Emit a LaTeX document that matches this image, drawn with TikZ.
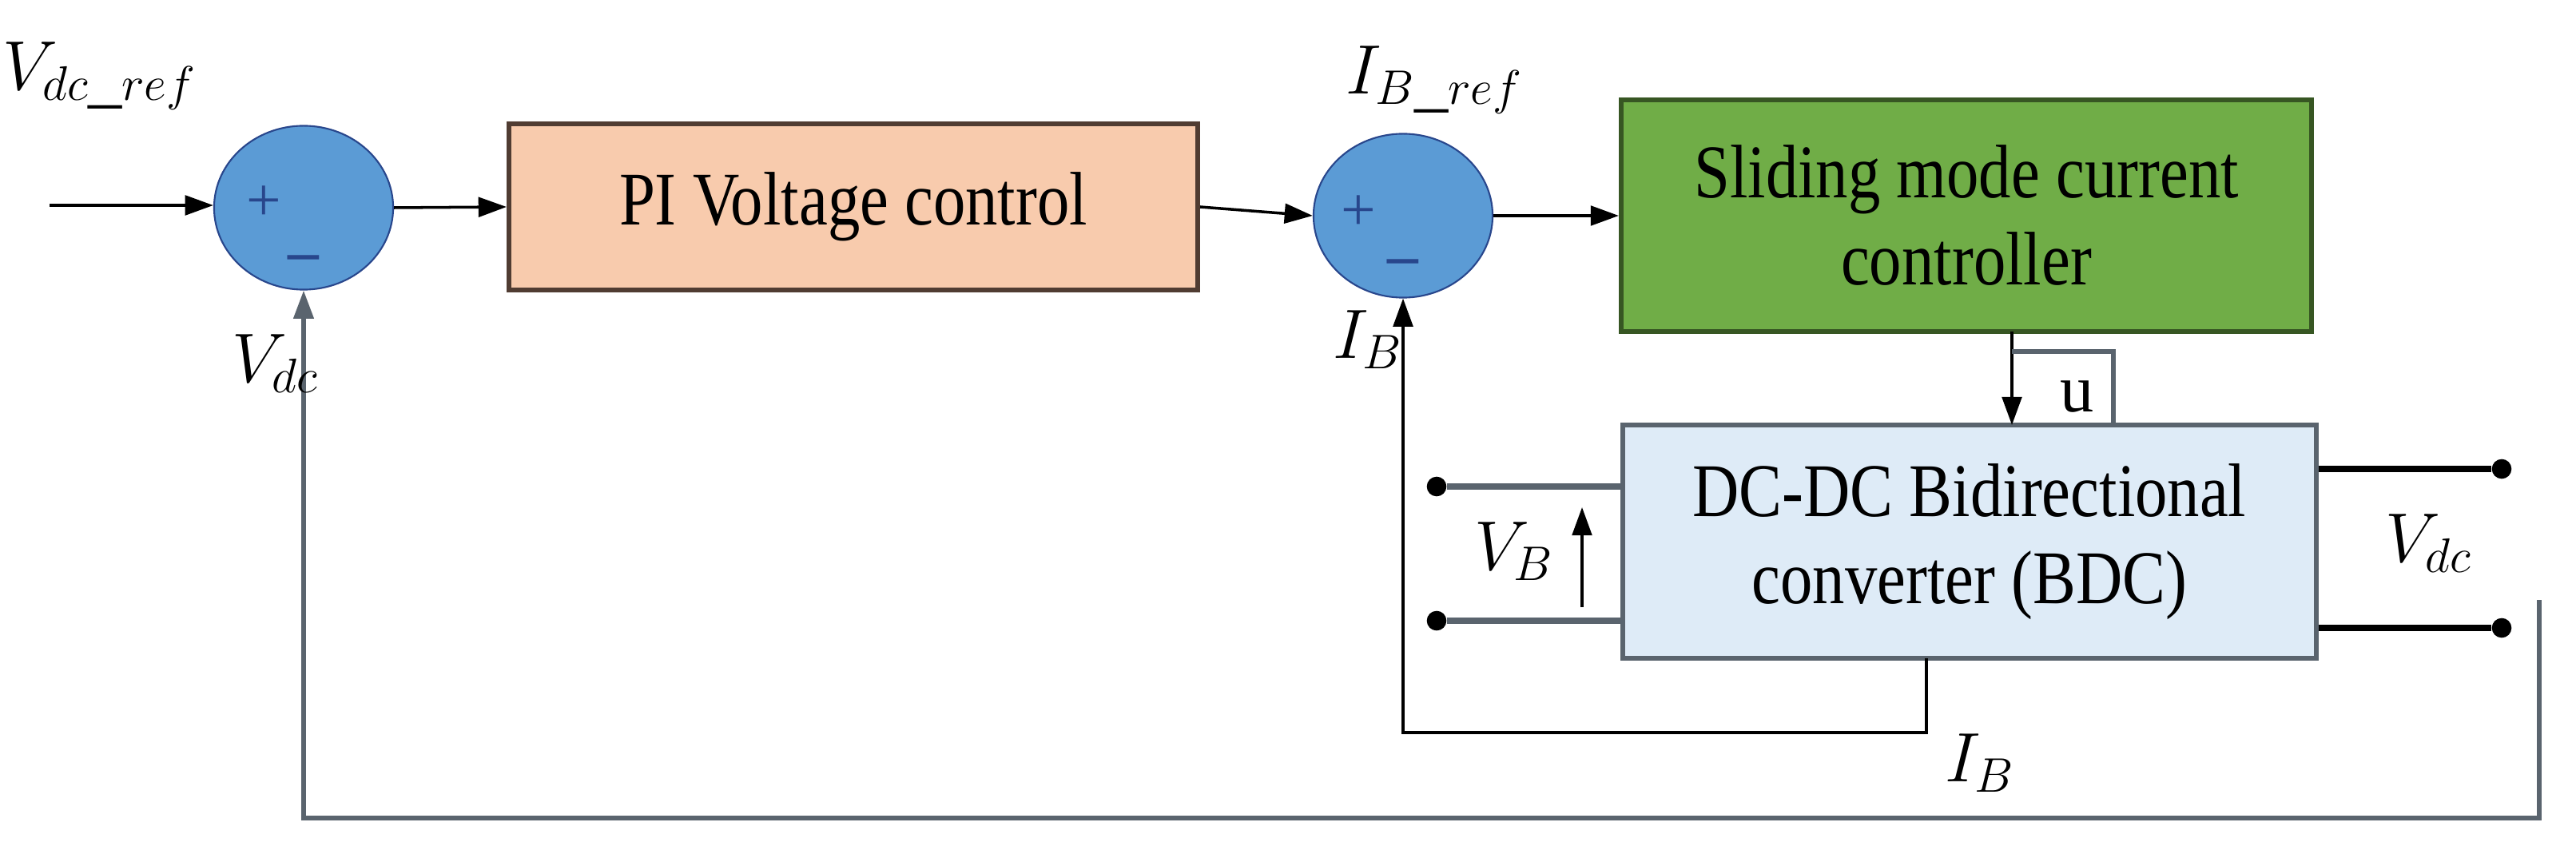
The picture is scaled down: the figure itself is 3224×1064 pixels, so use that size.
\documentclass[tikz,border=0pt]{standalone}
\usepackage{fontspec}
\setmainfont{Liberation Serif}
\usetikzlibrary{arrows.meta,shapes.geometric}
\definecolor{sumblue}{RGB}{91,155,213}
\definecolor{sumedge}{RGB}{40,70,140}
\definecolor{pifill}{RGB}{248,203,173}
\definecolor{piedge}{RGB}{80,60,50}
\definecolor{gfill}{RGB}{112,173,71}
\definecolor{gedge}{RGB}{55,86,35}
\definecolor{bfill}{RGB}{222,235,247}
\definecolor{bedge}{RGB}{90,100,110}
\begin{document}
\begin{tikzpicture}[x=0.01cm,y=-0.01cm,
  sum/.style={ellipse,fill=sumblue,draw=sumedge,line width=0.6pt,minimum width=2.24cm,minimum height=2.05cm,inner sep=0pt},
  blk/.style={rectangle,line width=1.6pt,inner sep=0pt,align=center,font=\fontsize{27}{31}\selectfont},
  sig/.style={line width=1pt,-{Triangle[length=10pt,width=7pt]}},
  wire/.style={line width=1pt},
  term/.style={line width=2pt},
  dot/.style={circle,fill=black,minimum size=7pt,inner sep=0pt},
  lab/.style={font=\fontsize{24}{26}\selectfont},
  pm/.style={text=sumedge,font=\fontsize{22}{22}\selectfont}]
\useasboundingbox (0,0) rectangle (3224,1064);
% summing junctions
\node[sum] (s1) at (380,260) {};
\node[sum] (s2) at (1756,270) {};
\node[pm] at (330,255) {+};
\node[pm] at (380,330) {\textbf{--}};
\node[pm] at (1700,267) {+};
\node[pm] at (1756,335) {\textbf{--}};
% blocks
\node[blk,fill=pifill,draw=piedge,minimum width=8.62cm,minimum height=2.08cm] (pi) at (1068,259) {\scalebox{0.85}[1]{PI Voltage control}};
\node[blk,fill=gfill,draw=gedge,minimum width=8.64cm,minimum height=2.9cm] (smc) at (2461,270) {\scalebox{0.85}[1]{Sliding mode current}\\\scalebox{0.85}[1]{controller}};
\node[blk,fill=bfill,draw=bedge,minimum width=8.67cm,minimum height=2.92cm] (bdc) at (2465,678) {\scalebox{0.85}[1]{DC-DC Bidirectional}\\\scalebox{0.85}[1]{converter (BDC)}};
% forward path
\coordinate (in) at (62,257);
\draw[sig] (in) -- (s1.west |- in);
\draw[sig] (s1.east) -- (pi.west);
\draw[sig] (pi.east) -- (s2.west);
\draw[sig] (s2.east) -- (smc.west);
% u
\coordinate (ua) at (2518,415);
\coordinate (ub) at (2518,532);
\draw[sig] (ua) -- (ub);
\coordinate (uc) at (2518,440);
\coordinate (ud) at (2645,440);
\coordinate (ue) at (2645,532);
\draw[wire,draw=bedge,line width=1.5pt] (uc) -- (ud) -- (ue);
\node[lab,font=\fontsize{24}{26}\selectfont] at (2600,497) {u};
% left terminals
\node[dot] (t1) at (1798,609) {};
\node[dot] (t2) at (1798,777) {};
\draw[term,draw=bedge] (t1) -- (t1 -| bdc.west);
\draw[term,draw=bedge] (t2) -- (t2 -| bdc.west);
\coordinate (vb1) at (1980,760);
\coordinate (vb2) at (1980,635);
\draw[sig] (vb1) -- (vb2);
\node[lab] at (1895,690) {$V_{B}$};
% right terminals
\node[dot] (t3) at (3131,587) {};
\node[dot] (t4) at (3131,786) {};
\draw[term] (t3 -| bdc.east) -- (t3);
\draw[term] (t4 -| bdc.east) -- (t4);
\node[lab] at (3040,680) {$V_{dc}$};
% IB feedback
\coordinate (ib1) at (2411,824);
\coordinate (ib2) at (2411,917);
\coordinate (ib3) at (1756,917);
\draw[sig] (ib1) -- (ib2) -- (ib3) -- (s2.south);
\node[lab] at (2478,955) {$I_{B}$};
\node[lab] at (1712,425) {$I_{B}$};
% Vdc feedback
\coordinate (f1) at (3178,751);
\coordinate (f2) at (3178,1024);
\coordinate (f3) at (380,1024);
\draw[sig,draw=bedge,line width=1.5pt] (f1) -- (f2) -- (f3) -- (s1.south);
\node[lab] at (345,455) {$V_{dc}$};
% references
\node[lab] at (125,95) {$V_{dc\_ref}$};
\node[lab] at (1795,100) {$I_{B\_ref}$};
\end{tikzpicture}
\end{document}
